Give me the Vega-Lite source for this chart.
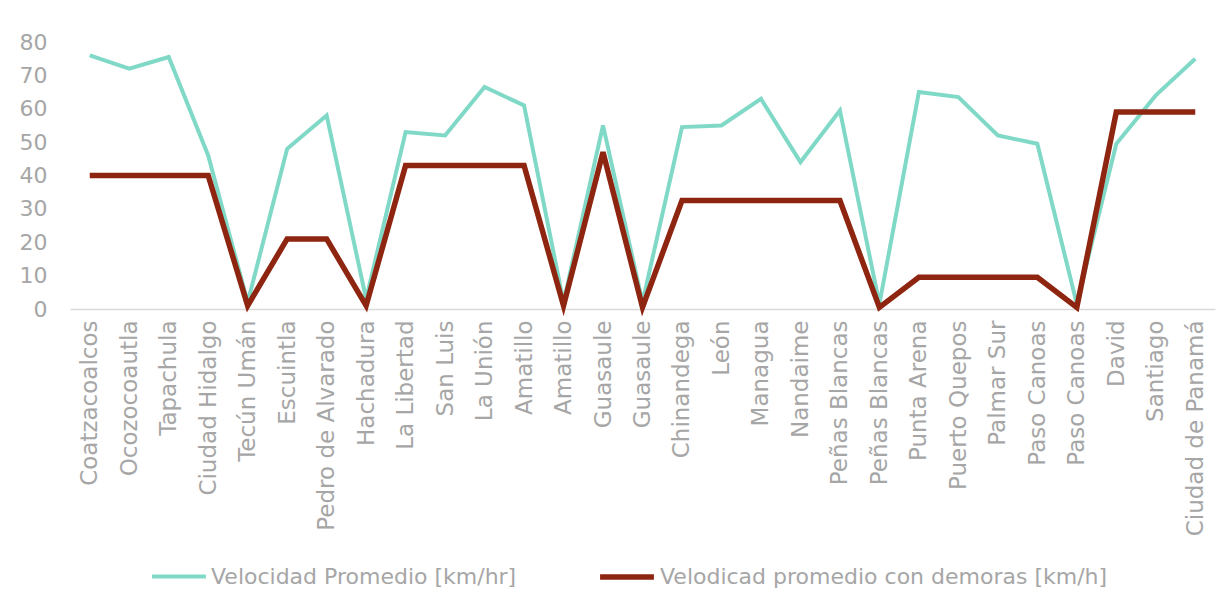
{
  "$schema": "https://vega.github.io/schema/vega-lite/v6.json",
  "width": 1145,
  "height": 267,
  "autosize": "none",
  "padding": {"left": 70, "top": 42, "right": 13, "bottom": 292},
  "background": "white",
  "config": {
    "view": {"stroke": null},
    "font": "DejaVu Sans",
    "axis": {"labelColor": "#a6a6a6", "labelFont": "DejaVu Sans"},
    "legend": {"labelColor": "#a6a6a6", "labelFont": "DejaVu Sans"}
  },
  "data": {
    "values": [
      {"lugar": "Coatzacoalcos", "prom": 76, "dem": 40},
      {"lugar": "Ocozocoautla", "prom": 72, "dem": 40},
      {"lugar": "Tapachula", "prom": 75.5, "dem": 40},
      {"lugar": "Ciudad Hidalgo", "prom": 46, "dem": 40},
      {"lugar": "Tecún Umán", "prom": 2, "dem": 1},
      {"lugar": "Escuintla", "prom": 48, "dem": 21},
      {"lugar": "Pedro de Alvarado", "prom": 58, "dem": 21},
      {"lugar": "Hachadura", "prom": 3, "dem": 1},
      {"lugar": "La Libertad", "prom": 53, "dem": 43},
      {"lugar": "San Luis", "prom": 52, "dem": 43},
      {"lugar": "La Unión", "prom": 66.5, "dem": 43},
      {"lugar": "Amatillo", "prom": 61, "dem": 43},
      {"lugar": "Amatillo ", "prom": 2, "dem": 1},
      {"lugar": "Guasaule", "prom": 55, "dem": 47},
      {"lugar": "Guasaule ", "prom": 2, "dem": 0.5},
      {"lugar": "Chinandega", "prom": 54.5, "dem": 32.5},
      {"lugar": "León", "prom": 55, "dem": 32.5},
      {"lugar": "Managua", "prom": 63, "dem": 32.5},
      {"lugar": "Nandaime", "prom": 44, "dem": 32.5},
      {"lugar": "Peñas Blancas", "prom": 59.5, "dem": 32.5},
      {"lugar": "Peñas Blancas ", "prom": 1.5, "dem": 0.5},
      {"lugar": "Punta Arena", "prom": 65, "dem": 9.5},
      {"lugar": "Puerto Quepos", "prom": 63.5, "dem": 9.5},
      {"lugar": "Palmar Sur", "prom": 52, "dem": 9.5},
      {"lugar": "Paso Canoas", "prom": 49.5, "dem": 9.5},
      {"lugar": "Paso Canoas ", "prom": 1.5, "dem": 0.5},
      {"lugar": "David", "prom": 49.5, "dem": 59},
      {"lugar": "Santiago", "prom": 64, "dem": 59},
      {"lugar": "Ciudad de Panamá", "prom": 75, "dem": 59}
    ]
  },
  "transform": [{"fold": ["prom", "dem"], "as": ["serie", "valor"]}],
  "mark": {"type": "line", "strokeJoin": "miter"},
  "encoding": {
    "x": {
      "field": "lugar",
      "type": "nominal",
      "sort": null,
      "title": null,
      "axis": {
        "labelAngle": -90,
        "labelFontSize": 23,
        "labelPadding": 11,
        "labelLimit": 400,
        "ticks": false,
        "domainColor": "#d9d9d9",
        "domainWidth": 1.5,
        "grid": false
      }
    },
    "y": {
      "field": "valor",
      "type": "quantitative",
      "title": null,
      "scale": {"domain": [0, 80], "nice": false},
      "axis": {
        "values": [0, 10, 20, 30, 40, 50, 60, 70, 80],
        "labelFontSize": 22,
        "labelPadding": 23,
        "ticks": false,
        "domain": false,
        "grid": false
      }
    },
    "color": {
      "field": "serie",
      "type": "nominal",
      "scale": {"domain": ["prom", "dem"], "range": ["#80d9c7", "#8e2510"]},
      "legend": {
        "title": null,
        "orient": "none",
        "direction": "horizontal",
        "legendX": 80,
        "legendY": 505,
        "symbolType": "stroke",
        "symbolSize": 2900,
        "labelFontSize": 22,
        "labelOffset": 3,
        "labelLimit": 700,
        "columnPadding": 72,
        "labelExpr": "datum.value == 'prom' ? 'Velocidad Promedio [km/hr]' : 'Velodicad promedio con demoras [km/h]'"
      }
    },
    "strokeWidth": {
      "field": "serie",
      "type": "nominal",
      "scale": {"domain": ["prom", "dem"], "range": [4, 5.5]},
      "legend": null
    }
  }
}
